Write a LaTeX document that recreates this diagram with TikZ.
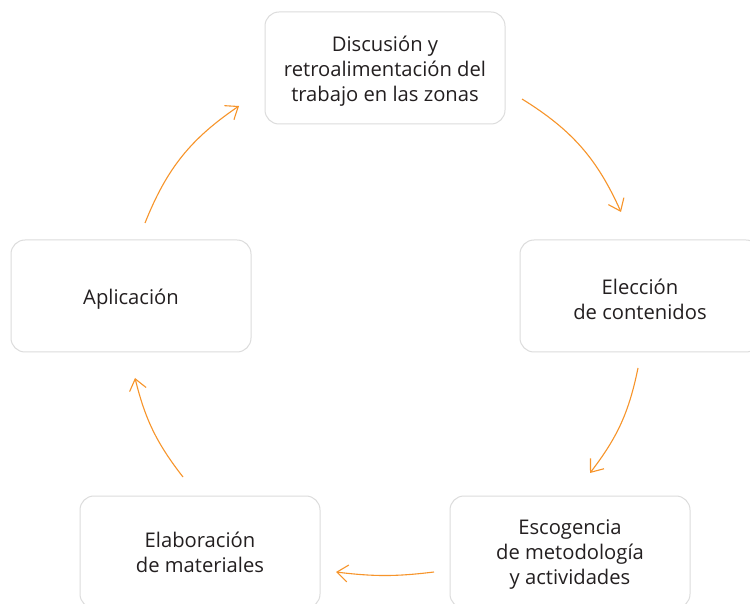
\documentclass[tikz,border=0pt]{standalone}
\usepackage{fontspec}
\setmainfont{Open Sans}
\usetikzlibrary{arrows.meta}
\definecolor{boxline}{HTML}{DCDCDC}
\definecolor{arrowc}{HTML}{F7942A}
\definecolor{txt}{HTML}{231F20}
\begin{document}
\begin{tikzpicture}[x=1pt,y=1pt,
  stagebox/.style={draw=boxline, line width=1pt, rounded corners=14pt, minimum width=240pt, minimum height=112pt, inner sep=0pt},
  stagetext/.style={align=center, text=txt, font=\fontsize{20.2}{25}\selectfont, inner sep=0pt},
  cyc/.style={draw=arrowc, line width=1.1pt, -{Straight Barb[length=11pt,width=17pt,line width=1.1pt]}}]
\useasboundingbox (0,0) rectangle (750,603);
\fill[white] (0,0) rectangle (750,603);
\node[stagebox] (disc) at (385,535) {};
\node[stagebox] (elec) at (640,307) {};
\node[stagebox] (esco) at (570,51) {};
\node[stagebox] (elab) at (200,51) {};
\node[stagebox] (apli) at (131,307) {};
\node[stagetext] (disct) at ([yshift=-3pt]disc.center) {Discusión y\\retroalimentación del\\trabajo en las zonas};
\node[stagetext] (elect) at ([yshift=-3pt]elec.center) {Elección\\de contenidos};
\node[stagetext] (escot) at ([yshift=-3pt]esco.center) {Escogencia\\de metodología\\y actividades};
\node[stagetext] (elabt) at ([yshift=0pt]elab.center) {Elaboración\\de materiales};
\node[stagetext] (aplit) at ([yshift=-3pt]apli.center) {Aplicación};
\coordinate (a1s) at (522,504);
\coordinate (a1e) at (621,391);
\coordinate (a2s) at (638,235);
\coordinate (a2e) at (590,130);
\coordinate (a3s) at (434,31);
\coordinate (a3e) at (336,31);
\coordinate (a4s) at (183,126);
\coordinate (a4e) at (135,225);
\coordinate (a5s) at (145,380);
\coordinate (a5e) at (239,497);
\draw[cyc] (a1s) to[bend left=17] (a1e);
\draw[cyc] (a2s) to[bend left=13] (a2e);
\draw[cyc] (a3s) to[bend left=7] (a3e);
\draw[cyc] (a4s) to[bend left=12] (a4e);
\draw[cyc] (a5s) to[bend left=17] (a5e);
\end{tikzpicture}
\end{document}
